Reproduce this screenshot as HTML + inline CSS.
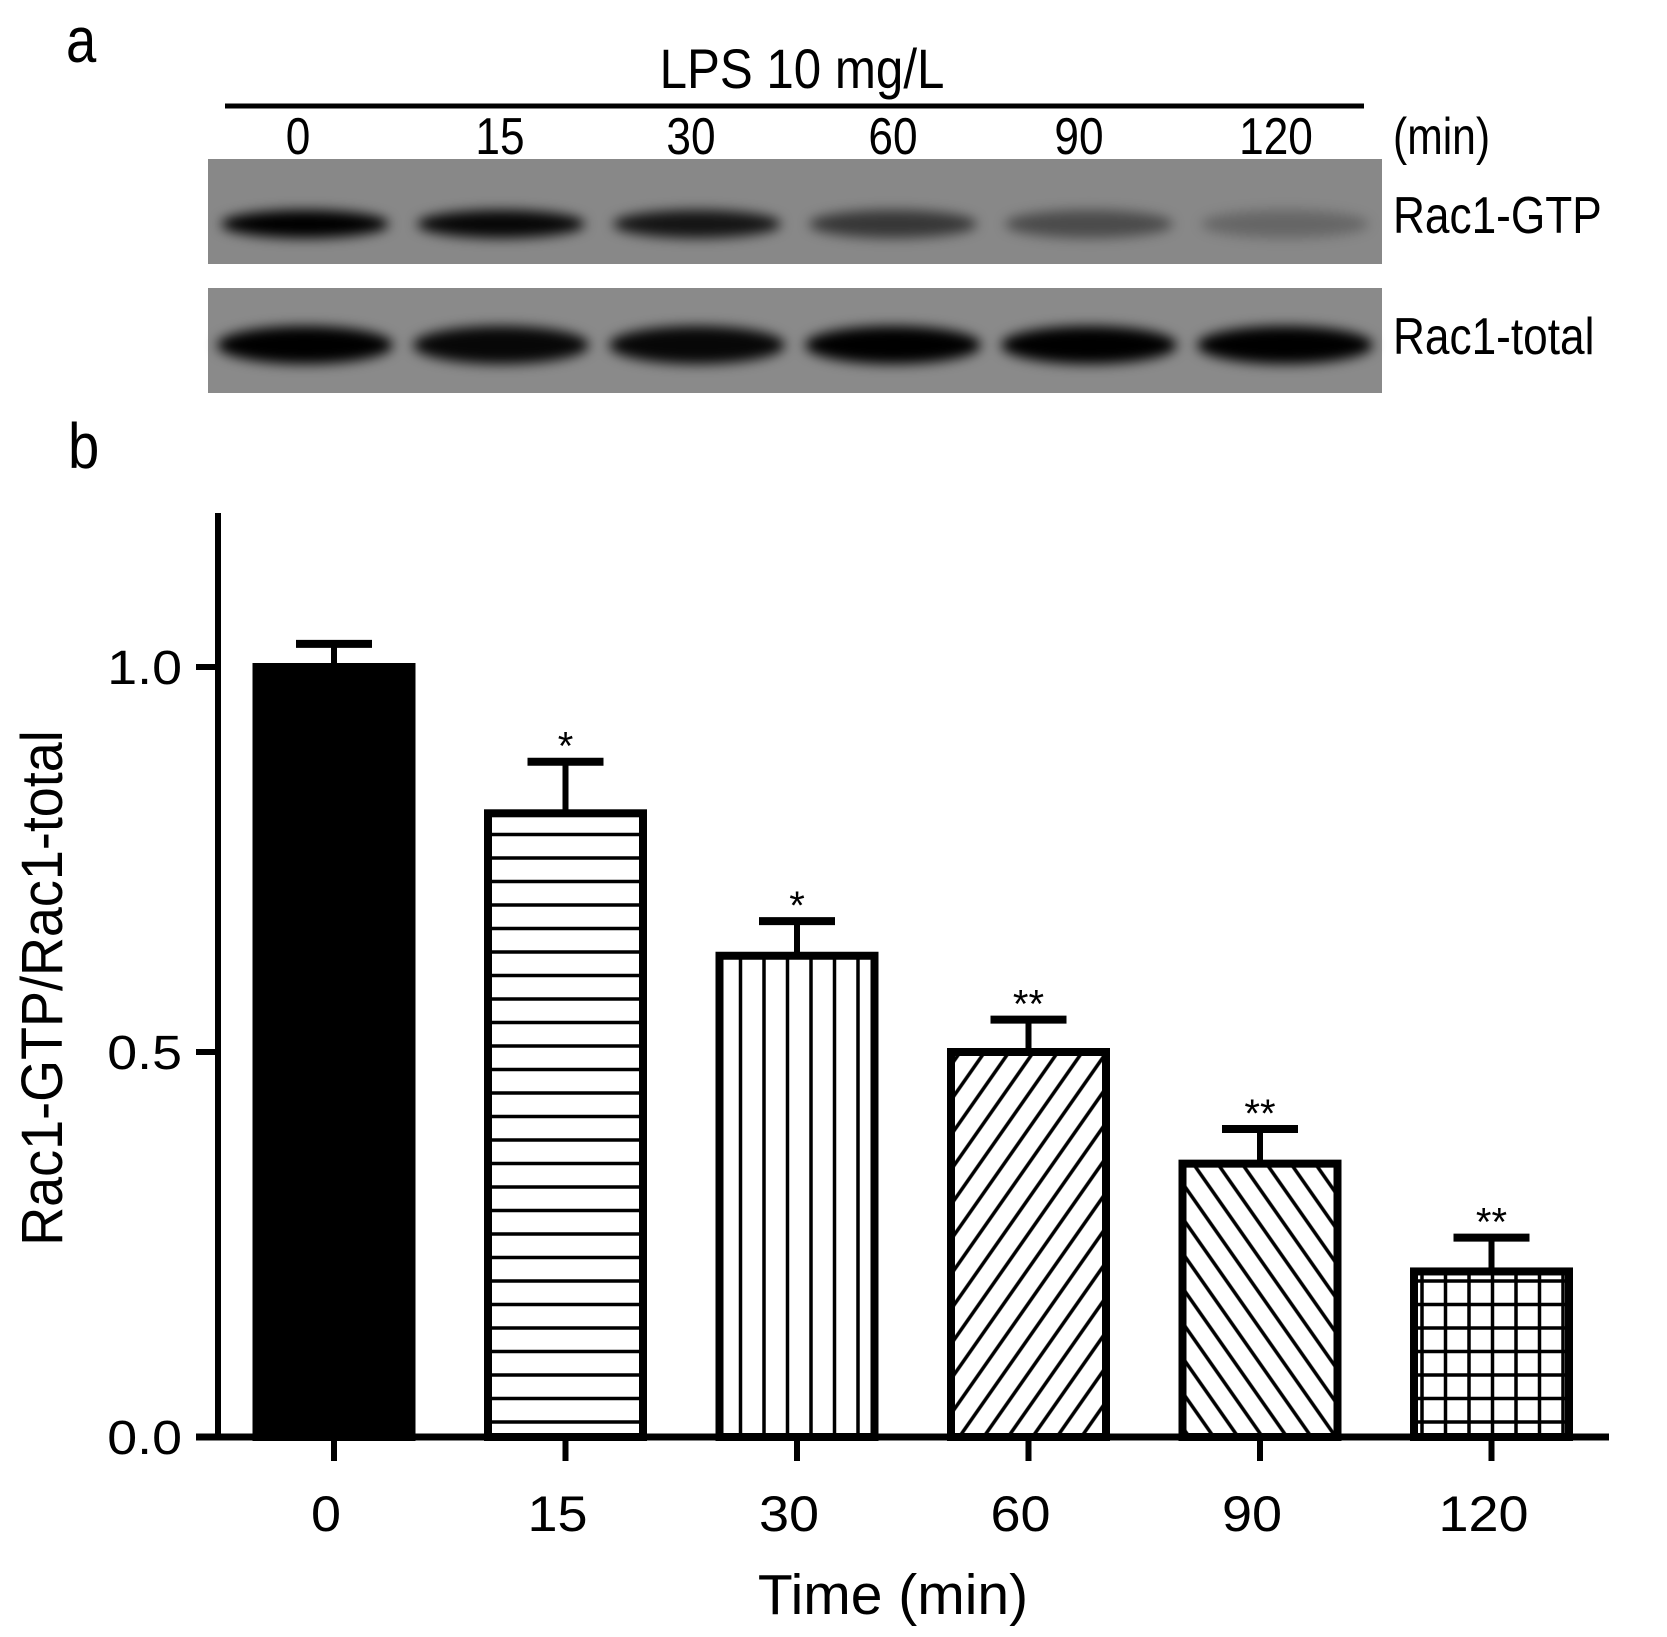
<!DOCTYPE html>
<html><head><meta charset="utf-8"><style>
html,body{margin:0;padding:0;background:#fff}
svg{display:block}
text{font-family:"Liberation Sans",sans-serif;fill:#000}
</style></head><body>
<svg id="fig" width="1667" height="1637" viewBox="0 0 1667 1637">
<defs>
<filter id="blur" x="-20%" y="-50%" width="140%" height="200%"><feGaussianBlur stdDeviation="6"/></filter>
<pattern id="p-h" width="24" height="23.5" patternUnits="userSpaceOnUse"><rect width="24" height="23.5" fill="#fff"/><line x1="0" y1="12" x2="24" y2="12" stroke="#000" stroke-width="3.5"/></pattern>
<pattern id="p-v" width="23.5" height="24" patternUnits="userSpaceOnUse"><rect width="23.5" height="24" fill="#fff"/><line x1="12" y1="0" x2="12" y2="24" stroke="#000" stroke-width="3.5"/></pattern>
<pattern id="p-d1" width="20" height="20" patternUnits="userSpaceOnUse" patternTransform="rotate(35)"><rect width="20" height="20" fill="#fff"/><line x1="10" y1="0" x2="10" y2="20" stroke="#000" stroke-width="3.5"/></pattern>
<pattern id="p-d2" width="20" height="20" patternUnits="userSpaceOnUse" patternTransform="rotate(-35)"><rect width="20" height="20" fill="#fff"/><line x1="10" y1="0" x2="10" y2="20" stroke="#000" stroke-width="3.5"/></pattern>
<pattern id="p-g" width="23.5" height="23.5" patternUnits="userSpaceOnUse"><rect width="23.5" height="23.5" fill="#fff"/><line x1="12" y1="0" x2="12" y2="23.5" stroke="#000" stroke-width="3.5"/><line x1="0" y1="12" x2="23.5" y2="12" stroke="#000" stroke-width="3.5"/></pattern>
</defs>

<!-- Panel a -->
<text x="0" y="0" font-size="64" transform="translate(66,62) scale(0.85,1)">a</text>
<text x="0" y="0" font-size="56" text-anchor="middle" transform="translate(802,88) scale(0.88,1)">LPS 10 mg/L</text>
<line x1="225" y1="106" x2="1364" y2="106" stroke="#000" stroke-width="5"/>
<g id="lanes" font-size="52" text-anchor="middle"></g>
<text x="0" y="0" font-size="52" transform="translate(1393,154) scale(0.82,1)">(min)</text>
<rect x="208" y="159" width="1174" height="105" fill="#888"/>
<rect x="208" y="288" width="1174" height="105" fill="#8a8a8a"/>
<g id="bands" filter="url(#blur)"></g>
<text x="0" y="0" font-size="52" transform="translate(1393,233) scale(0.85,1)">Rac1-GTP</text>
<text x="0" y="0" font-size="52" transform="translate(1393,354) scale(0.85,1)">Rac1-total</text>

<!-- Panel b -->
<text x="0" y="0" font-size="64" transform="translate(68,468) scale(0.88,1)">b</text>
<g id="chart"></g>
<text x="0" y="0" font-size="58" text-anchor="middle" transform="translate(62,988) rotate(-90) scale(0.93,1)">Rac1-GTP/Rac1-total</text>
<text x="893" y="1614" font-size="57" text-anchor="middle">Time (min)</text>
</svg>
<script>
const categories = ["0","15","30","60","90","120"];
const values = [1.0, 0.81, 0.625, 0.50, 0.355, 0.215];
const errors = [0.03, 0.067, 0.045, 0.042, 0.045, 0.044];
const stars = ["", "*", "*", "**", "**", "**"];
const yTicks = [0.0, 0.5, 1.0];
const yTickLabels = ["0.0", "0.5", "1.0"];
const gtpIntensity = [1.0, 0.95, 0.85, 0.6, 0.45, 0.25];
const totalIntensity = [1.0, 0.95, 0.95, 1.0, 1.0, 1.0];
const patterns = ["#000","url(#p-h)","url(#p-v)","url(#p-d1)","url(#p-d2)","url(#p-g)"];

const NS = "http://www.w3.org/2000/svg";
function mk(tag, attrs, parent){const e=document.createElementNS(NS,tag);for(const k in attrs)e.setAttribute(k,attrs[k]);parent.appendChild(e);return e;}

const axX = 218, baseY = 1437, yMax = 1.2;
const pxPerUnit = 770;
function yScale(v){return baseY - v*pxPerUnit;}
const firstCenter = 334, step = 231.5, barW = 155;
function xScale(i){return firstCenter + i*step;}

const chart = document.getElementById('chart');
let el = mk('line',{x1:axX,y1:yScale(yMax),x2:axX,y2:baseY+2,stroke:'#000','stroke-width':6},chart);


yTicks.forEach((t,i)=>{
  const l = mk('line',{x1:196,y1:yScale(t),x2:axX,y2:yScale(t),stroke:'#000','stroke-width':6},chart);
  
  
  const tx = mk('text',{x:0,y:0,'font-size':48,'text-anchor':'end',transform:'translate(182,'+(yScale(t)+17)+') scale(1.12,1)'},chart);
  tx.textContent = yTickLabels[i];
  
  
});
values.forEach((v,i)=>{
  const cx = xScale(i);
  const top = yScale(v);
  const b = mk('rect',{x:cx-barW/2,y:top,width:barW,height:baseY-top,fill:patterns[i],stroke:'#000','stroke-width':8},chart);
  
  
  const ey = yScale(v+errors[i]);
  const e1 = mk('line',{x1:cx,y1:top,x2:cx,y2:ey,stroke:'#000','stroke-width':6},chart);
  
  
  const e2 = mk('line',{x1:cx-38,y1:ey,x2:cx+38,y2:ey,stroke:'#000','stroke-width':8},chart);
  
  
  if(stars[i]){
    const s = mk('text',{x:cx,y:ey-2,'font-size':40,'text-anchor':'middle'},chart);
    s.textContent = stars[i];
    
    
  }
  const tk = mk('line',{x1:cx,y1:baseY,x2:cx,y2:baseY+24,stroke:'#000','stroke-width':6},chart);
  
  
  const tl = mk('text',{x:0,y:0,'font-size':50,'text-anchor':'middle',transform:'translate('+(cx-8)+',1531) scale(1.08,1)'},chart);
  tl.textContent = categories[i];
  
  
});
el = mk('line',{x1:196,y1:baseY,x2:1609,y2:baseY,stroke:'#000','stroke-width':7},chart);



const lanes = document.getElementById('lanes');
const laneX = [298,500,691,893,1079,1276];
const bands = document.getElementById('bands');
categories.forEach((c,i)=>{
  const t = mk('text',{x:0,y:0,transform:'translate('+laneX[i]+',154) scale(0.85,1)'},lanes);
  t.textContent = c;
  
  
  const cx = 208 + 97 + i*196;
  const g = mk('ellipse',{cx:cx,cy:224,rx:84,ry:14,fill:'#000','fill-opacity':gtpIntensity[i]},bands);
  
  
  const tt = mk('ellipse',{cx:cx,cy:345,rx:88,ry:19,fill:'#000','fill-opacity':totalIntensity[i]},bands);
  
  
});
</script>
</body></html>
